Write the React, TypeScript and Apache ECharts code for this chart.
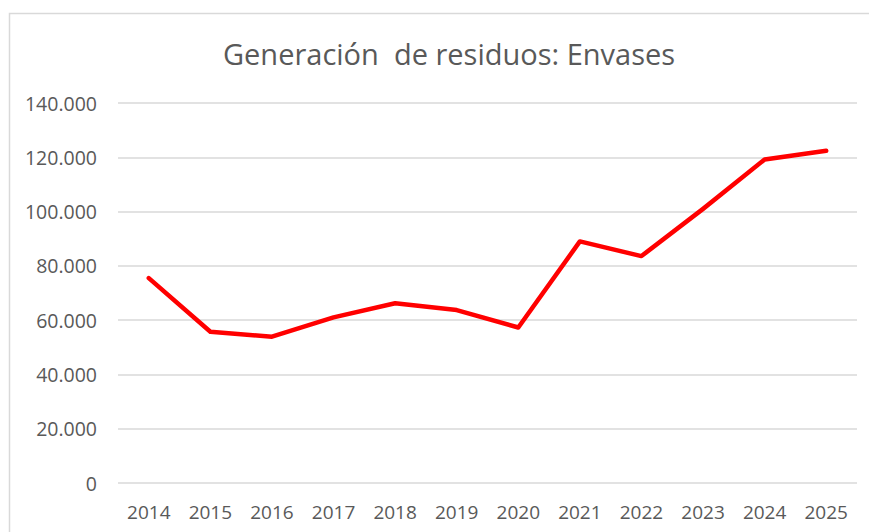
import React, { useEffect, useRef } from "react";
import * as echarts from "echarts";

const title = "Generación  de residuos: Envases";
const years = ["2014", "2015", "2016", "2017", "2018", "2019", "2020", "2021", "2022", "2023", "2024", "2025"];
const envases = [75500, 55700, 53900, 61000, 66200, 63700, 57300, 89000, 83600, 101000, 119200, 122400];

const fmt = (v: number) => {
  if (v === 0) return "0";
  return String(v).replace(/\B(?=(\d{3})+(?!\d))/g, ".");
};

export default function App() {
  const ref = useRef<HTMLDivElement>(null);
  useEffect(() => {
    if (!ref.current) return;
    const chart = echarts.init(ref.current, undefined, { renderer: "svg" });
    chart.setOption({
      animation: false,
      backgroundColor: "#ffffff",
      title: {
        text: title,
        left: 218,
        top: 34,
        textStyle: { fontFamily: "Open Sans", fontSize: 29, fontWeight: "normal", color: "#595959" },
      },
      graphic: [
        {
          type: "rect",
          shape: { x: 9.5, y: 13.5, width: 900, height: 600 },
          style: { fill: "none", stroke: "#d9d9d9", lineWidth: 1.5 },
          silent: true,
        },
      ],
      grid: { left: 118, right: 12, top: 103, bottom: 49 },
      xAxis: {
        type: "category",
        data: years,
        boundaryGap: true,
        axisLine: { show: false },
        axisTick: { show: false },
        axisLabel: { fontFamily: "Open Sans", fontSize: 19, color: "#595959", margin: 19 },
      },
      yAxis: {
        type: "value",
        min: 0,
        max: 140000,
        interval: 20000,
        axisLine: { show: false },
        axisTick: { show: false },
        splitLine: { lineStyle: { color: "#d9d9d9", width: 1.5 } },
        axisLabel: { fontFamily: "Open Sans", fontSize: 19.5, color: "#595959", margin: 21, formatter: fmt },
      },
      series: [
        {
          type: "line",
          data: envases,
          symbol: "none",
          lineStyle: { color: "#ff0000", width: 4.5, cap: "round", join: "round" },
        },
      ],
    });
    return () => chart.dispose();
  }, []);
  return <div ref={ref} style={{ position: "fixed", left: 0, top: 0, width: 869, height: 532 }} />;
}
